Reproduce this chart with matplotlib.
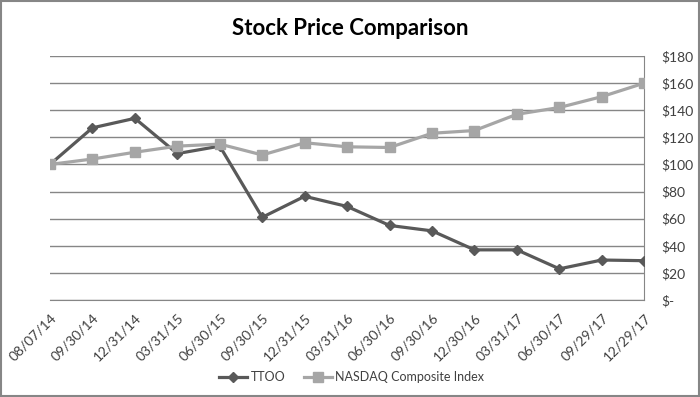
import matplotlib.pyplot as plt
from matplotlib.ticker import FuncFormatter
from matplotlib.patches import Rectangle

# data
dates = ['08/07/14', '09/30/14', '12/31/14', '03/31/15', '06/30/15', '09/30/15',
         '12/31/15', '03/31/16', '06/30/16', '09/30/16', '12/30/16', '03/31/17',
         '06/30/17', '09/29/17', '12/29/17']
ttoo = [100, 127, 134, 108, 113.5, 61, 76.5, 69, 55, 51, 37, 37, 23, 29.5, 29]
nasdaq = [100, 104, 109, 113.5, 115, 107, 116, 113, 112.5, 123, 125, 137, 142, 150, 160]

plt.rcParams['font.family'] = ['Lato', 'DejaVu Sans']

fig = plt.figure(figsize=(7, 3.97), dpi=100)
ax = fig.add_axes([0.0714, 0.2443, 0.849, 0.6147])

x = range(len(dates))
ax.plot(x, ttoo, color='#595959', lw=2.3, marker='D', ms=5, label='TTOO', zorder=3)
ax.plot(x, nasdaq, color='#A6A6A6', lw=2.3, marker='s', ms=6.5,
        label='NASDAQ Composite Index', zorder=3)

ax.set_xlim(0, len(dates) - 1)
ax.set_ylim(0, 180)
ax.set_yticks(range(0, 181, 20))
ax.yaxis.tick_right()
ax.yaxis.set_major_formatter(FuncFormatter(lambda v, p: '$-' if v == 0 else '${:.0f}'.format(v)))
ax.grid(axis='y', color='#868686', lw=1)
ax.set_axisbelow(True)
for s in ['left', 'top']:
    ax.spines[s].set_visible(False)
ax.spines['right'].set_color('#868686')
ax.spines['bottom'].set_color('#868686')
ax.tick_params(length=0, labelsize=10, colors='#404040', pad=12)

ax.set_xticks(list(x))
ax.set_xticklabels(dates, rotation=45, ha='right', rotation_mode='anchor')
ax.tick_params(axis='x', pad=8)

fig.suptitle('Stock Price Comparison', y=0.955, fontsize=16, fontweight='bold', color='black')

ax.legend(loc='center', bbox_to_anchor=(0.508, -0.316), ncol=2, frameon=False,
          fontsize=9, handlelength=2.2, handletextpad=0.3, columnspacing=1.5,
          labelcolor='#404040')

fig.patches.append(Rectangle((0.002, 0.003), 0.996, 0.994, transform=fig.transFigure,
                             fill=False, edgecolor='#868686', lw=1.5))

fig.savefig('out.png', dpi=100)
